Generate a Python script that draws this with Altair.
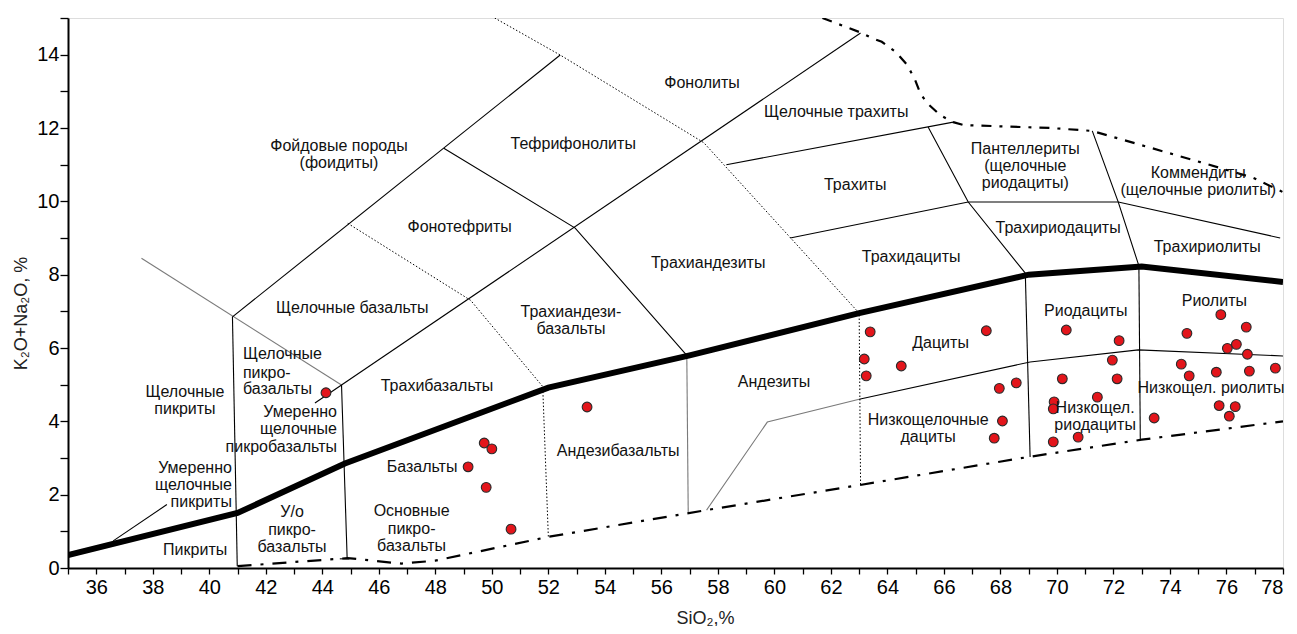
import altair as alt
import pandas as pd

# ---------------- data ----------------
# sample points: SiO2 (%), K2O+Na2O (%)
SIO2 = [44.13, 53.37, 49.73, 50.0, 49.16, 49.8, 50.68,
        63.39, 67.5, 63.18, 64.49, 63.25, 67.96, 68.56, 68.07, 67.78,
        70.33, 72.2, 71.96, 70.19, 72.13, 71.43, 69.9, 69.87, 70.75, 69.87, 73.44,
        75.8, 76.7, 74.6, 76.35, 76.03, 76.74, 74.4, 74.68, 75.64, 76.81, 77.73,
        75.74, 76.31, 76.1]
ALK = [4.78, 4.39, 3.41, 3.25, 2.76, 2.2, 1.06,
       6.44, 6.47, 5.70, 5.51, 5.24, 4.9, 5.05, 4.01, 3.54,
       6.49, 6.2, 5.67, 5.16, 5.16, 4.66, 4.53, 4.34, 3.57, 3.44, 4.09,
       6.91, 6.57, 6.4, 6.1, 5.99, 5.83, 5.56, 5.24, 5.34, 5.37, 5.45,
       4.43, 4.4, 4.14]

# classification boundaries (x = SiO2, y = K2O+Na2O)
THICK_LINE = [(35, 0.35), (41, 1.5), (44.8, 2.85), (52, 4.92), (57, 5.8),
              (63, 6.95), (69, 8.0), (73, 8.22), (78, 7.8)]
LOWER_DASHDOT = [(41, 0.05), (44.9, 0.27), (46.8, 0.12), (48, 0.2), (52, 0.85),
                 (57.6, 1.58), (63, 2.26), (69, 3.03), (73, 3.5), (78, 4.0)]
UPPER_DASHDOT = [(61.7, 15.0), (63.1, 14.59), (63.43, 14.46), (63.8, 14.35),
                 (64.3, 14.07), (64.7, 13.72), (64.98, 13.31), (65.16, 12.95),
                 (65.4, 12.68), (65.87, 12.35), (66.33, 12.16), (66.7, 12.08),
                 (69.76, 12.0), (71.25, 11.92), (75.07, 11.07), (76.95, 10.64),
                 (78, 10.25)]
SOLID_LINES = [
    [(40.82, 6.85), (40.99, 0.05)],
    [(40.82, 6.85), (52.42, 13.99)],
    [(43.74, 4.5), (63.05, 14.59)],
    [(44.68, 4.99), (44.88, 0.25)],
    [(44.62, 0.25), (44.95, 0.25)],
    [(48.3, 11.45), (52.95, 9.27), (56.9, 5.8)],
    [(58.3, 11.0), (66.33, 12.16)],
    [(65.44, 12.03), (66.86, 9.98), (68.88, 8.04)],
    [(60.56, 9.0), (66.86, 9.98)],
    [(66.86, 9.98), (72.17, 9.98), (77.9, 9.0)],
    [(71.25, 11.92), (72.17, 9.98), (72.9, 8.24)],
    [(68.88, 8.04), (69.05, 3.03)],
    [(72.9, 8.24), (72.95, 3.49)],
    [(63, 4.6), (69.05, 5.62), (72.88, 5.95), (78.08, 5.78)],
    [(36.6, 0.74), (38.5, 1.73)],
]
GRAY_LINES = [
    [(37.6, 8.45), (44.68, 4.99)],
    [(56.9, 5.8), (56.95, 1.53)],
    [(57.6, 1.58), (59.75, 3.98), (63, 4.6)],
]
DOTTED_LINES = [
    [(50.1, 15.0), (52.42, 13.99), (57.5, 11.6), (63.0, 6.95), (63.05, 2.26)],
    [(44.9, 9.4), (49.25, 7.3), (51.8, 4.95), (52.0, 0.85)],
]

# field names (one entry per text line)
LABEL_TEXT = ["Фонолиты", "Щелочные трахиты", "Фойдовые породы", "(фоидиты)",
              "Тефрифонолиты", "Пантеллериты", "(щелочные", "риодациты)",
              "Коммендиты", "(щелочные риолиты)", "Трахиты", "Фонотефриты",
              "Трахидациты", "Трахириодациты", "Трахириолиты", "Трахиандезиты",
              "Щелочные базальты", "Трахиандези-", "базальты", "Риодациты", "Риолиты",
              "Дациты", "Щелочные", "пикриты", "Трахибазальты", "Андезиты",
              "Низкощел. риолиты", "Низкощелочные", "дациты", "Низкощел.", "риодациты",
              "Андезибазальты", "Базальты", "Основные", "пикро-", "базальты",
              "У/о", "пикро-", "базальты", "Пикриты",
              "Щелочные", "пикро-", "базальты",
              "Умеренно", "щелочные", "пикробазальты",
              "Умеренно", "щелочные", "пикриты"]
LABEL_X = [57.44, 62.19, 44.59, 44.59,
           52.88, 68.88, 68.88, 68.88,
           75.0, 75.0, 62.86, 48.86,
           64.84, 70.04, 75.32, 57.66,
           45.06, 52.8, 52.8, 71.02, 75.57,
           65.88, 39.14, 39.14, 48.06, 59.99,
           75.45, 65.44, 65.44, 71.35, 71.35,
           54.47, 47.53, 47.16, 47.16, 47.16,
           42.93, 42.93, 42.93, 39.5,
           41.19, 41.19, 41.19,
           44.52, 44.52, 44.52,
           40.8, 40.8, 40.8]
LABEL_Y = [13.23, 12.44, 11.51, 11.04,
           11.56, 11.43, 10.96, 10.5,
           10.77, 10.31, 10.44, 9.3,
           8.48, 9.27, 8.75, 8.32,
           7.09, 6.98, 6.52, 7.0, 7.28,
           6.13, 4.8, 4.34, 4.96, 5.07,
           4.91, 4.04, 3.57, 4.36, 3.9,
           3.19, 2.75, 1.55, 1.06, 0.6,
           1.53, 1.04, 0.57, 0.49,
           5.84, 5.32, 4.88,
           4.25, 3.79, 3.30,
           2.73, 2.26, 1.80]
LABEL_ALIGN = ["center"] * 40 + ["left"] * 3 + ["right"] * 6

X_TICKS = list(range(35, 79))
Y_TICKS = list(range(0, 16))

# ---------------- tables ----------------
def lines_df(lines, style):
    rows = []
    for i, ln in enumerate(lines):
        for j, (x, y) in enumerate(ln):
            rows.append({"id": f"{style}{i}", "ord": j, "x": x, "y": y})
    return pd.DataFrame(rows)

pts = pd.DataFrame({"x": SIO2, "y": ALK})
labels = pd.DataFrame({"t": LABEL_TEXT, "x": LABEL_X, "y": LABEL_Y, "a": LABEL_ALIGN})

FONT = "Liberation Sans"

xscale = alt.Scale(domain=[35, 78], nice=False, zero=False)
yscale = alt.Scale(domain=[0, 15], nice=False, zero=True)

xaxis = alt.Axis(values=X_TICKS,
                 labelExpr="datum.value % 2 == 0 ? datum.label : ''",
                 grid=False, tickSize=6, tickWidth=1.3, tickColor="black",
                 domainColor="black", domainWidth=2, labelFontSize=20,
                 labelColor="black", labelPadding=3, labelFont=FONT,
                 title="SiO₂,%", titleFont=FONT, titleFontSize=18,
                 titleFontWeight="normal", titleColor="#222",
                 titleX=637, titleY=50, titleBaseline="middle", titleAlign="center")
yaxis = alt.Axis(values=Y_TICKS,
                 labelExpr="(datum.value % 2 == 0 && datum.value <= 14) ? datum.label : ''",
                 grid=False, tickSize=8, tickWidth=1.3, tickColor="black",
                 domainColor="black", domainWidth=2, labelFontSize=20,
                 labelColor="black", labelPadding=1, labelFont=FONT,
                 title="K₂O+Na₂O, %", titleFont=FONT, titleFontSize=18,
                 titleFontWeight="normal", titleColor="#222",
                 titleX=-47, titleY=295, titleBaseline="middle", titleAlign="center")


def line_layer(df, **mk):
    return alt.Chart(df).mark_line(clip=True, **mk).encode(
        x=alt.X("x:Q", scale=xscale, axis=xaxis),
        y=alt.Y("y:Q", scale=yscale, axis=yaxis),
        detail="id:N",
        order="ord:Q",
    )


layers = [
    line_layer(lines_df(GRAY_LINES, "g"), color="#7a7a7a", strokeWidth=1.1),
    line_layer(lines_df(DOTTED_LINES, "d"), color="black", strokeWidth=1, strokeDash=[1.5, 2]),
    line_layer(lines_df(SOLID_LINES, "s"), color="black", strokeWidth=1.1),
    line_layer(lines_df([LOWER_DASHDOT], "l"), color="black", strokeWidth=2.2,
               strokeDash=[14, 9, 3, 9]),
    line_layer(lines_df([UPPER_DASHDOT], "u"), color="black", strokeWidth=2.2,
               strokeDash=[10, 8, 3, 8]),
    line_layer(lines_df([THICK_LINE], "t"), color="black", strokeWidth=6,
               strokeJoin="miter"),
    alt.Chart(pts).mark_point(filled=True, shape="circle", size=95, fill="#e3151b",
                              stroke="#2a2a2a", strokeWidth=1.1, opacity=1).encode(
        x=alt.X("x:Q", scale=xscale, axis=xaxis),
        y=alt.Y("y:Q", scale=yscale, axis=yaxis),
    ),
]
for al in ["center", "left", "right"]:
    layers.append(
        alt.Chart(labels[labels["a"] == al]).mark_text(
            align=al, baseline="middle", font=FONT, fontSize=16, color="#111").encode(
            x=alt.X("x:Q", scale=xscale, axis=xaxis),
            y=alt.Y("y:Q", scale=yscale, axis=yaxis),
            text="t:N",
        )
    )

chart = alt.layer(*layers).properties(
    width=1215, height=550,
    autosize=alt.AutoSizeParams(type="none"),
    padding={"left": 60, "top": 10, "right": 6, "bottom": 58},
).configure_view(strokeWidth=0).configure(font=FONT)

chart.save("out.html", embed_options={"renderer": "svg", "actions": False})
